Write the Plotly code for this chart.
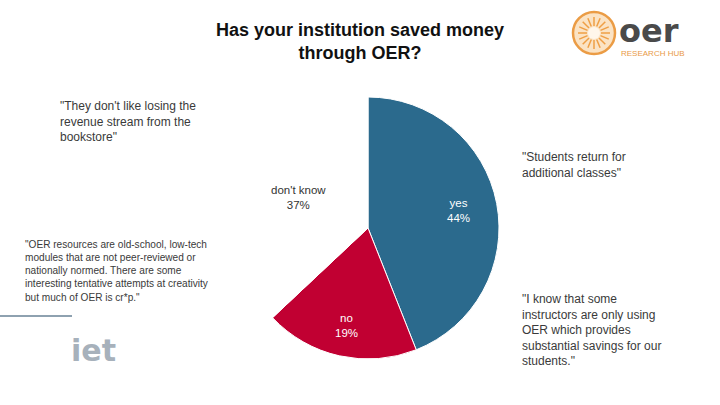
import math
import plotly.graph_objects as go

# Data
labels = ["yes", "no", "don't know"]
values = [44, 19, 37]
slice_colors = ["#2b6a8d", "#c10032", "#ffffff"]
text_colors = ["#ffffff", "#ffffff", "#333333"]
label_radius_frac = [0.70, 0.76, 0.58]

title_text = "Has your institution saved money<br>through OER?"
quote_top_left = "\"They don't like losing the<br>revenue stream from the<br>bookstore\""
quote_mid_left = ("\"OER resources are old-school, low-tech<br>modules that are not peer-reviewed or<br>"
                  "nationally normed. There are some<br>interesting tentative attempts at creativity<br>"
                  "but much of OER is cr*p.\"")
quote_top_right = "\"Students return for<br>additional classes\""
quote_bottom_right = ("\"I know that some<br>instructors are only using<br>OER which provides<br>"
                      "substantial savings for our<br>students.\"")

W, H = 720, 405
FONT = "Liberation Sans, Arial, sans-serif"
TXT = "#3a3a3a"

# pie placement (pixels)
PX0, PX1, PY0, PY1 = 237, 499, 97, 359
CX, CY, R = (PX0 + PX1) / 2, (PY0 + PY1) / 2, (PX1 - PX0) / 2

fig = go.Figure()
fig.add_trace(go.Pie(
    labels=labels, values=values, sort=False, direction="clockwise", rotation=0,
    marker=dict(colors=slice_colors, line=dict(color="#ffffff", width=1)),
    textinfo="none",
    domain=dict(x=[PX0 / W, PX1 / W], y=[1 - PY1 / H, 1 - PY0 / H]),
    showlegend=False, hoverinfo="label+percent",
))

def px(x):
    return x / W

def py(y):
    return 1 - y / H

ann = []
# slice labels at the mid-angle of each slice (clockwise from 12 o'clock)
total = sum(values)
cum = 0
for lab, v, col, rf in zip(labels, values, text_colors, label_radius_frac):
    mid = (cum + v / 2) / total * 2 * math.pi
    cum += v
    lx = CX + rf * R * math.sin(mid)
    ly = CY - rf * R * math.cos(mid)
    ann.append(dict(x=px(lx), y=py(ly), text=f"{lab}<br>{round(v / total * 100)}%", showarrow=False,
                    xanchor="center", yanchor="middle", align="center",
                    font=dict(family=FONT, size=11.5, color=col)))

ann.append(dict(x=px(360), y=py(18), text="<b>" + title_text + "</b>", showarrow=False,
                xanchor="center", yanchor="top", align="center",
                font=dict(family=FONT, size=18, color="#111111")))
ann.append(dict(x=px(58), y=py(97), text=quote_top_left, showarrow=False, xanchor="left", yanchor="top",
                align="left", font=dict(family=FONT, size=12, color=TXT)))
ann.append(dict(x=px(23), y=py(237), text=quote_mid_left, showarrow=False, xanchor="left", yanchor="top",
                align="left", font=dict(family=FONT, size=10.1, color=TXT)))
ann.append(dict(x=px(520), y=py(148), text=quote_top_right, showarrow=False, xanchor="left", yanchor="top",
                align="left", font=dict(family=FONT, size=12, color=TXT)))
ann.append(dict(x=px(520), y=py(290), text=quote_bottom_right, showarrow=False, xanchor="left", yanchor="top",
                align="left", font=dict(family=FONT, size=12, color=TXT)))
# iet logo
ann.append(dict(x=px(69), y=py(350), text="<b>iet</b>", showarrow=False, xanchor="left", yanchor="middle",
                font=dict(family="DejaVu Sans, sans-serif", size=30, color="#a7b1bb")))
# OER logo text
ann.append(dict(x=px(617), y=py(31), text="<b>oer</b>", showarrow=False, xanchor="left", yanchor="middle",
                font=dict(family="DejaVu Sans, sans-serif", size=32, color="#4a4a4a")))
ann.append(dict(x=px(619), y=py(54), text="RESEARCH HUB", showarrow=False, xanchor="left", yanchor="middle",
                font=dict(family=FONT, size=8, color="#e99a48")))

shapes = []
# grey rule at left
shapes.append(dict(type="line", xref="paper", yref="paper", x0=0, x1=px(72), y0=py(316), y1=py(316),
                   line=dict(color="#8ea1b0", width=2)))
# sunburst logo
cx, cy, r = 594, 33, 21
shapes.append(dict(type="circle", xref="paper", yref="paper", x0=px(cx - r), x1=px(cx + r),
                   y0=py(cy + r), y1=py(cy - r), line=dict(color="#eb9c45", width=2.5),
                   fillcolor="#fbe3c4"))
shapes.append(dict(type="circle", xref="paper", yref="paper", x0=px(cx - 6), x1=px(cx + 6),
                   y0=py(cy + 6), y1=py(cy - 6), line=dict(width=0), fillcolor="#fff6ea"))
for k in range(16):
    a = 2 * math.pi * k / 16
    shapes.append(dict(type="line", xref="paper", yref="paper",
                       x0=px(cx + 7 * math.cos(a)), y0=py(cy + 7 * math.sin(a)),
                       x1=px(cx + 16 * math.cos(a)), y1=py(cy + 16 * math.sin(a)),
                       line=dict(color="#ef9f45", width=1.5)))

fig.update_layout(width=W, height=H, margin=dict(l=0, r=0, t=0, b=0),
                  paper_bgcolor="#ffffff", plot_bgcolor="#ffffff",
                  annotations=ann, shapes=shapes)
fig.write_html("out.html", config={"displayModeBar": False},
               post_script="document.body.style.margin='0';document.body.style.padding='0';")
